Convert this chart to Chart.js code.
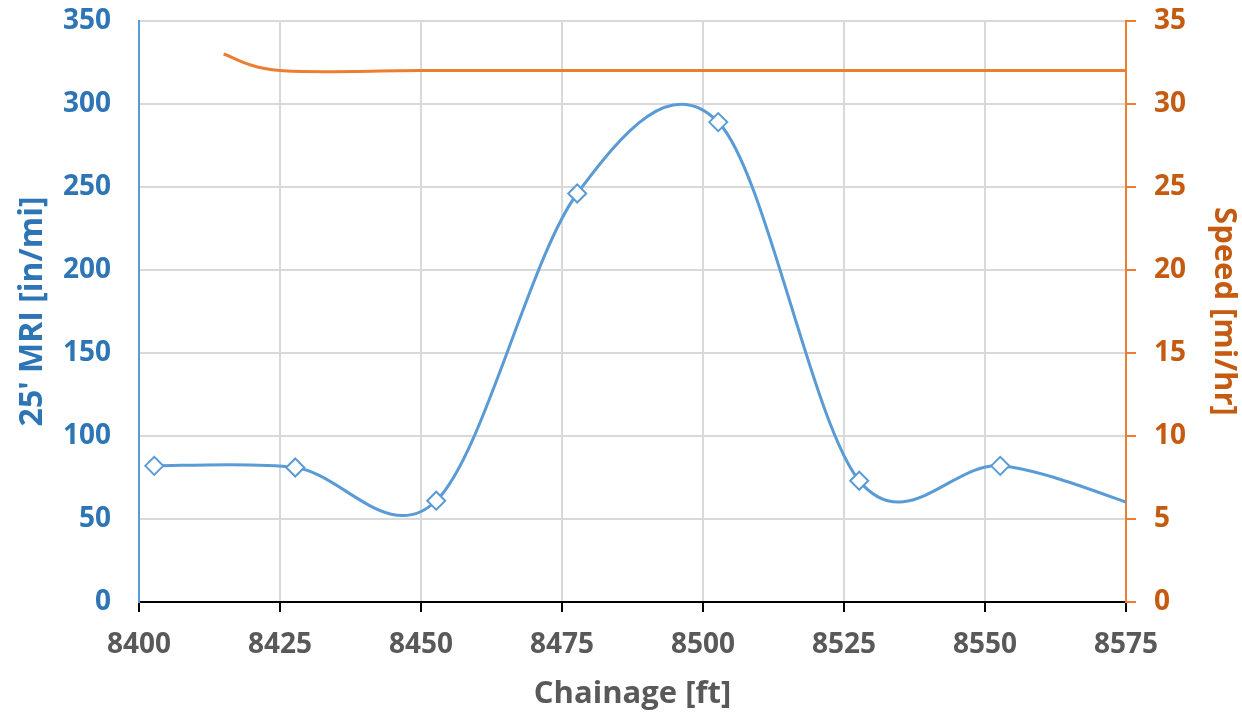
<!DOCTYPE html>
<html>
<head>
<meta charset="utf-8">
<script src="https://cdn.jsdelivr.net/npm/chart.js@4.4.3/dist/chart.umd.min.js"></script>
<style>
  html, body { margin: 0; padding: 0; background: #fff; }
  #wrap { width: 1242px; height: 715px; overflow: hidden; }
  #c { display: block; margin-top: -24px; }
</style>
</head>
<body>
<div id="wrap"><canvas id="c" width="1242" height="739"></canvas></div>
<script>
// chainage stations (ft) and roughness values
const mriStations = [8402.7, 8427.7, 8452.7, 8477.7, 8502.7, 8527.7, 8552.7, 8577.7];
const mriValues   = [82, 81, 61, 246, 289, 73, 82, 57];

// survey speed along the same stretch
const speedStations = [8415, 8425, 8450, 8475, 8500, 8525, 8550, 8577.5];
const speedValues   = [33, 32, 32, 32, 32, 32, 32, 32];

const xTicks = [8400, 8425, 8450, 8475, 8500, 8525, 8550, 8575];

const BLUE = '#5B9BD5', BLUE_TXT = '#2E75B6';
const ORANGE = '#ED7D31', ORANGE_TXT = '#C55A11';
const GREY_TXT = '#595959', GRID = '#D9D9D9';
const FONT = '"Open Sans", sans-serif';

const pts = (xs, ys) => xs.map((x, i) => ({ x, y: ys[i] }));

// uniform Catmull-Rom smoothing (spreadsheet-style smoothed lines)
const catmullRom = {
  id: 'catmullRom',
  beforeDatasetDraw(chart, args) {
    const meta = args.meta;
    meta.dataset.updateControlPoints(chart.chartArea, meta.iScale.axis);
    const p = meta.data;
    p.forEach((pt, i) => {
      const prev = p[i - 1] || pt, next = p[i + 1] || pt;
      const dx = (next.x - prev.x) / 6, dy = (next.y - prev.y) / 6;
      pt.cp1x = pt.x - dx; pt.cp1y = pt.y - dy;
      pt.cp2x = pt.x + dx; pt.cp2y = pt.y + dy;
    });
  }
};

new Chart(document.getElementById('c').getContext('2d'), {
  type: 'line',
  plugins: [catmullRom],
  data: {
    datasets: [
      {
        label: "25' MRI",
        data: pts(mriStations, mriValues),
        yAxisID: 'y',
        borderColor: BLUE,
        borderWidth: 3,
        tension: 0.4,
        pointStyle: 'rectRot',
        pointRadius: 9,
        pointBorderWidth: 2,
        pointBackgroundColor: '#fff',
        pointBorderColor: BLUE
      },
      {
        label: 'Speed',
        data: pts(speedStations, speedValues),
        yAxisID: 'y1',
        borderColor: ORANGE,
        borderWidth: 3,
        tension: 0.4,
        pointRadius: 0
      }
    ]
  },
  options: {
    responsive: false,
    animation: false,
    layout: { padding: 0 },
    plugins: { legend: { display: false }, tooltip: { enabled: false } },
    scales: {
      x: {
        type: 'linear',
        min: 8400, max: 8575,
        afterBuildTicks: s => { s.ticks = xTicks.map(v => ({ value: v })); },
        afterFit: s => { s.height = 113; },
        grid: { color: GRID, lineWidth: 2, tickLength: 10, tickColor: '#000', tickWidth: 2 },
        border: { color: '#000', width: 2 },
        ticks: { color: GREY_TXT, padding: 16, callback: v => String(v),
                 font: { family: FONT, size: 28, weight: 'bold' } },
        title: { display: true, text: 'Chainage [ft]', color: GREY_TXT, padding: { top: 0, bottom: 2 },
                 font: { family: FONT, size: 31, weight: 'bold' } }
      },
      y: {
        position: 'left',
        min: 0, max: 350,
        ticks: { stepSize: 50, color: BLUE_TXT, padding: 28, font: { family: FONT, size: 28, weight: 'bold' } },
        afterFit: s => { s.width = 139; },
        grid: { color: GRID, lineWidth: 2, drawTicks: false },
        border: { color: BLUE, width: 2 },
        title: { display: true, text: "25' MRI [in/mi]", color: BLUE_TXT, padding: { top: 14, bottom: 0 },
                 font: { family: FONT, size: 32, weight: 'bold' } }
      },
      y1: {
        position: 'right',
        min: 0, max: 35,
        ticks: { stepSize: 5, color: ORANGE_TXT, padding: 18, font: { family: FONT, size: 28, weight: 'bold' } },
        afterFit: s => { s.width = 116; },
        grid: { drawOnChartArea: false, color: ORANGE, lineWidth: 2, tickLength: 10 },
        border: { color: ORANGE, width: 2 },
        title: { display: true, text: 'Speed [mi/hr]', color: ORANGE_TXT, padding: { top: 0, bottom: 2 },
                 font: { family: FONT, size: 31, weight: 'bold' } }
      }
    }
  }
});
</script>
</body>
</html>
